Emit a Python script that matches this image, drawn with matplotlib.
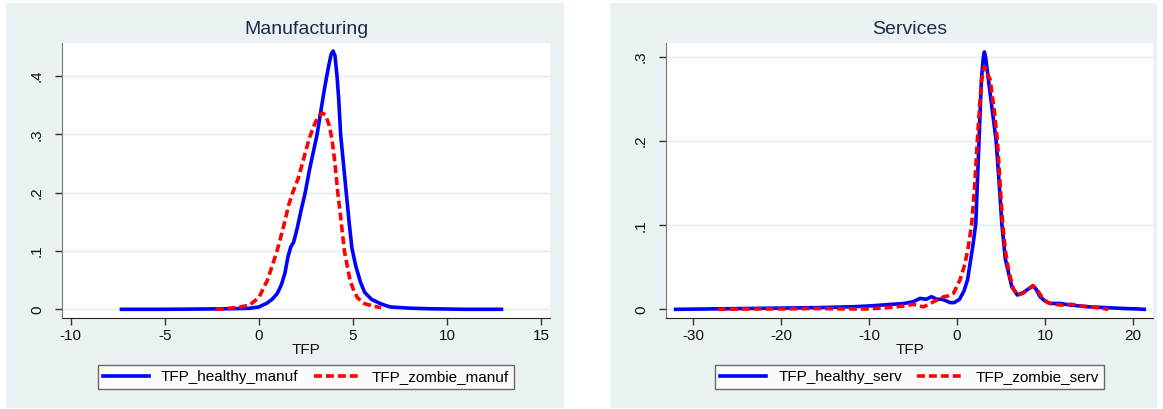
"""Kernel density of TFP for healthy vs zombie firms, manufacturing and services."""

import matplotlib

matplotlib.use("Agg")

import matplotlib.pyplot as plt
from matplotlib.patches import Rectangle

plt.rcParams["font.family"] = ["Liberation Sans", "DejaVu Sans"]

# manufacturing
manuf_healthy_x = [-7.3, -5, -3, -1.5, -0.5, 0.0, 0.42, 0.7, 0.98, 1.2, 1.39, 1.55, 1.7, 1.85, 2.05, 2.25,
                   2.46, 2.7, 2.9, 3.1, 3.3, 3.5, 3.7, 3.85, 3.95, 4.05, 4.16, 4.25, 4.35, 4.5, 4.65, 4.8,
                   4.95, 5.15, 5.4, 5.63, 6.0, 6.43, 6.7, 7.0, 8, 9, 11, 12.9]
manuf_healthy_y = [0, 0, 0.0005, 0.001, 0.0017, 0.004, 0.0103, 0.017, 0.027, 0.042, 0.062, 0.09, 0.107,
                   0.115, 0.14, 0.17, 0.199, 0.24, 0.27, 0.30, 0.34, 0.38, 0.415, 0.438, 0.443, 0.435,
                   0.40, 0.36, 0.30, 0.25, 0.20, 0.15, 0.105, 0.075, 0.047, 0.029, 0.017, 0.0103, 0.007,
                   0.004, 0.002, 0.001, 0.0, 0.0]
manuf_zombie_x = [-2.3, -1.5, -1.0, -0.5, 0.0, 0.46, 0.97, 1.3, 1.6, 1.8, 2.1, 2.4, 2.7, 3.0, 3.2, 3.37,
                  3.55, 3.75, 3.9, 4.05, 4.2, 4.38, 4.55, 4.7, 4.85, 5.05, 5.24, 5.6, 6.13, 6.5]
manuf_zombie_y = [0.0, 0.002, 0.004, 0.007, 0.02, 0.05, 0.10, 0.14, 0.18, 0.20, 0.225, 0.26, 0.295, 0.32,
                  0.332, 0.337, 0.333, 0.315, 0.29, 0.25, 0.20, 0.15, 0.10, 0.075, 0.05, 0.032, 0.02,
                  0.01, 0.005, 0.003]

# services
serv_healthy_x = [-32, -28, -24, -20, -16, -12, -10, -8, -6, -5, -4.2, -3.5, -2.9, -2.3, -1.7, -1.2, -0.8,
                  -0.3, 0.3, 0.8, 1.2, 1.5, 1.8, 2.14, 2.51, 2.78, 3.0, 3.12, 3.25, 3.58, 4.0, 4.45, 4.8,
                  5.1, 5.5, 6.23, 6.87, 7.55, 8.1, 8.62, 9.0, 9.45, 10.0, 10.6, 11.7, 13, 14, 15, 17, 19,
                  20.5, 21.3]
serv_healthy_y = [0.0, 0.0005, 0.001, 0.0015, 0.002, 0.003, 0.004, 0.0055, 0.007, 0.009, 0.013, 0.012,
                  0.015, 0.012, 0.012, 0.010, 0.008, 0.008, 0.012, 0.022, 0.035, 0.055, 0.075, 0.102,
                  0.201, 0.273, 0.30, 0.306, 0.30, 0.273, 0.238, 0.201, 0.15, 0.102, 0.06, 0.027, 0.017,
                  0.020, 0.024, 0.028, 0.024, 0.015, 0.010, 0.007, 0.007, 0.005, 0.004, 0.003, 0.002,
                  0.001, 0.0005, 0.0]
serv_zombie_x = [-27.2, -24, -20, -16, -12, -10, -8, -6, -5, -4.3, -3.8, -3.2, -2.5, -2.0, -1.5, -1.0,
                 -0.4, 0.35, 0.92, 1.3, 1.68, 2.0, 2.32, 2.6, 2.82, 3.0, 3.12, 3.3, 3.5, 3.77, 4.2, 4.6,
                 4.9, 5.2, 5.5, 5.9, 6.4, 6.9, 7.5, 8.1, 8.7, 9.2, 9.7, 10.3, 11, 12, 13, 14, 15, 16, 17.2]
serv_zombie_y = [0.0, 0.0005, 0.0005, 0.001, 0.0005, 0.0005, 0.002, 0.004, 0.006, 0.004, 0.003, 0.006,
                 0.010, 0.012, 0.015, 0.016, 0.019, 0.035, 0.0547, 0.075, 0.102, 0.145, 0.201, 0.245,
                 0.273, 0.284, 0.2885, 0.285, 0.28, 0.273, 0.24, 0.201, 0.15, 0.102, 0.07, 0.045, 0.025,
                 0.017, 0.019, 0.024, 0.028, 0.022, 0.014, 0.008, 0.006, 0.005, 0.006, 0.004, 0.003,
                 0.002, 0.0]

manuf_xticks = [-10, -5, 0, 5, 10, 15]
manuf_yticks = [0, 0.1, 0.2, 0.3, 0.4]
manuf_ylabels = ["0", ".1", ".2", ".3", ".4"]
serv_xticks = [-30, -20, -10, 0, 10, 20]
serv_yticks = [0, 0.1, 0.2, 0.3]
serv_ylabels = ["0", ".1", ".2", ".3"]

W, H = 1163, 409
BG = "#EAF2F3"
BLUE = "#0000FF"
RED = "#FF0000"


def _panel(fig, box, bg_box, title, hx, hy, zx, zy, names, xticks, yticks, ylabels, xlim, ylim):
    bx, bw = bg_box
    fig.patches.append(Rectangle((bx / W, 1 / H), bw / W, 405 / H, transform=fig.transFigure,
                                 facecolor=BG, edgecolor="none", zorder=-10))
    left, right, top, bottom = box
    ax = fig.add_axes([left / W, (H - bottom) / H, (right - left) / W, (bottom - top) / H])
    ax.set_facecolor("white")
    ax.yaxis.grid(True, color="#E3ECEE", lw=1.0)
    ax.set_axisbelow(True)
    h_line, = ax.plot(hx, hy, color=BLUE, lw=2.6, solid_joinstyle="round", label=names[0], zorder=3)
    z_line, = ax.plot(zx, zy, color=RED, lw=2.6, dashes=(2.2, 1.1), label=names[1], zorder=4)
    ax.set_xlim(*xlim)
    ax.set_ylim(*ylim)
    ax.set_xticks(xticks)
    ax.set_xticklabels([str(t) for t in xticks])
    ax.set_yticks(yticks)
    ax.set_yticklabels(ylabels, rotation=90, va="center")
    ax.tick_params(axis="both", length=5, width=1, color="#333333", labelsize=11, labelcolor="#111111")
    ax.tick_params(axis="y", pad=8)
    ax.tick_params(axis="x", pad=3)
    for s in ("top", "right"):
        ax.spines[s].set_visible(False)
    ax.spines["left"].set_color("#777777")
    ax.spines["bottom"].set_color("#222222")
    ax.set_xlabel("TFP", fontsize=11, labelpad=0, color="#111111")
    cx = (left + right) / 2 / W
    fig.text(cx, (H - 30) / H, title, ha="center", va="center", fontsize=14, color="#1C2A48")
    leg = fig.legend(handles=[h_line, z_line], loc="center", bbox_to_anchor=(cx, (H - 377) / H),
                     bbox_transform=fig.transFigure, ncol=2, fontsize=11, frameon=True, fancybox=False,
                     handlelength=3.0, handletextpad=0.8, columnspacing=1.0, borderpad=0.35)
    leg.get_frame().set_edgecolor("#444444")
    leg.get_frame().set_linewidth(1.0)
    return ax


def main():
    fig = plt.figure(figsize=(W / 100, H / 100), dpi=100)
    _panel(fig, (62, 550, 43, 318), (6, 558), "Manufacturing",
           manuf_healthy_x, manuf_healthy_y, manuf_zombie_x, manuf_zombie_y,
           ("TFP_healthy_manuf", "TFP_zombie_manuf"), manuf_xticks, manuf_yticks, manuf_ylabels,
           (-10.46, 15.48), (-0.0149, 0.4568))
    _panel(fig, (666, 1153, 43, 318), (610, 547), "Services",
           serv_healthy_x, serv_healthy_y, serv_zombie_x, serv_zombie_y,
           ("TFP_healthy_serv", "TFP_zombie_serv"), serv_xticks, serv_yticks, serv_ylabels,
           (-33.1, 22.3), (-0.0103, 0.3166))
    fig.savefig("out.png", dpi=100)
    plt.close(fig)


if __name__ == "__main__":
    main()
